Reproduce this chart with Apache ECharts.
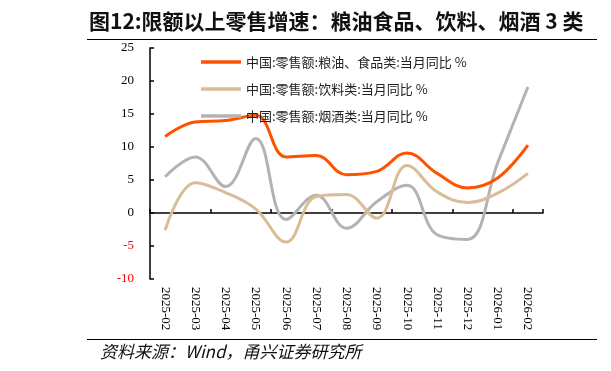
<!DOCTYPE html>
<html><head><meta charset="utf-8">
<script src="https://cdn.jsdelivr.net/npm/echarts@6/dist/echarts.min.js"></script>
<style>html,body{margin:0;padding:0;background:#fff}#c{width:611px;height:371px}</style>
</head><body><div id="c"></div>
<script>
const categories = ['2025-02','2025-03','2025-04','2025-05','2025-06','2025-07','2025-08','2025-09','2025-10','2025-11','2025-12','2026-01','2026-02'];
const grainOil = [11.6, 13.8, 14.0, 14.8, 8.5, 8.7, 5.8, 6.3, 9.1, 6.0, 3.8, 5.3, 10.3];
const beverage = [-2.6, 4.6, 3.1, 0.6, -4.4, 2.5, 2.8, -0.8, 7.2, 3.2, 1.6, 3.0, 6.0];
const tobaccoAlcohol = [5.5, 8.5, 4.0, 11.3, -1.0, 2.7, -2.3, 1.7, 4.2, -3.3, -4.0, 7.6, 19.1];
const seriesNames = ['中国:零售额:粮油、食品类:当月同比 %','中国:零售额:饮料类:当月同比 %','中国:零售额:烟酒类:当月同比 %'];
const yTicks = {min: -10, max: 25, interval: 5};

const chart = echarts.init(document.getElementById('c'), null, {renderer: 'canvas'});
const serif = '"Liberation Serif","Times New Roman",serif';
const cjk = '"Noto Sans CJK SC",sans-serif';
const colors = ['#FF5200', '#D9BD97', '#B3B3B3'];
const data = [grainOil, beverage, tobaccoAlcohol];

chart.setOption({
  animation: false,
  backgroundColor: '#fff',
  grid: {left: 150, right: 68, top: 48, bottom: 92, containLabel: false},
  title: {
    text: '图12:限额以上零售增速：粮油食品、饮料、烟酒 3 类',
    left: 84, top: 6,
    textStyle: {fontFamily: cjk, fontWeight: 'bold', fontSize: 21, color: '#111'}
  },
  legend: {
    orient: 'vertical', left: 196, top: 50,
    icon: 'rect', itemWidth: 40, itemHeight: 3.5, itemGap: 13,
    textStyle: {fontFamily: cjk, fontSize: 13, color: '#222', lineHeight: 14},
    data: seriesNames.map((n, i) => ({name: n, itemStyle: {color: colors[i]}}))
  },
  xAxis: [{
    type: 'category', data: categories, boundaryGap: true,
    axisLine: {onZero: true, lineStyle: {color: '#000', width: 1.5}},
    axisTick: {show: true, inside: true, length: 4, lineStyle: {color: '#000', width: 1.5}},
    axisLabel: {show: false},
    splitLine: {show: false}
  }, {
    type: 'category', data: categories, boundaryGap: true, position: 'bottom',
    axisLine: {show: false, onZero: false},
    axisTick: {show: false},
    axisLabel: {rotate: -90, margin: 8, fontFamily: serif, fontSize: 13, color: '#000', interval: 0},
    splitLine: {show: false}
  }],
  yAxis: {
    type: 'value', min: yTicks.min, max: yTicks.max, interval: yTicks.interval,
    axisLine: {show: true, lineStyle: {color: '#000', width: 1.5}},
    axisTick: {show: true, inside: true, length: 4, lineStyle: {color: '#000', width: 1.5}},
    axisLabel: {
      margin: 16, fontFamily: serif, fontSize: 13,
      color: function (v) { return v < 0 ? '#FF0000' : '#000'; }
    },
    splitLine: {show: false}
  },
  series: data.map((d, i) => ({
    name: seriesNames[i], type: 'line', data: d, xAxisIndex: 0,
    smooth: 0.4, symbol: 'none',
    lineStyle: {color: colors[i], width: 3},
    itemStyle: {color: colors[i]},
    z: 3 - i
  })),
  graphic: [
    {type: 'line', shape: {x1: 87, y1: 39.5, x2: 597, y2: 39.5}, style: {stroke: '#000', lineWidth: 1}},
    {type: 'line', shape: {x1: 87, y1: 339.5, x2: 597, y2: 339.5}, style: {stroke: '#000', lineWidth: 1}},
    {type: 'text', left: 100, top: 343,
      style: {text: '资料来源：Wind，甬兴证券研究所', fontFamily: cjk, fontStyle: 'italic', fontSize: 17, fill: '#111'}}
  ]
});
</script></body></html>
